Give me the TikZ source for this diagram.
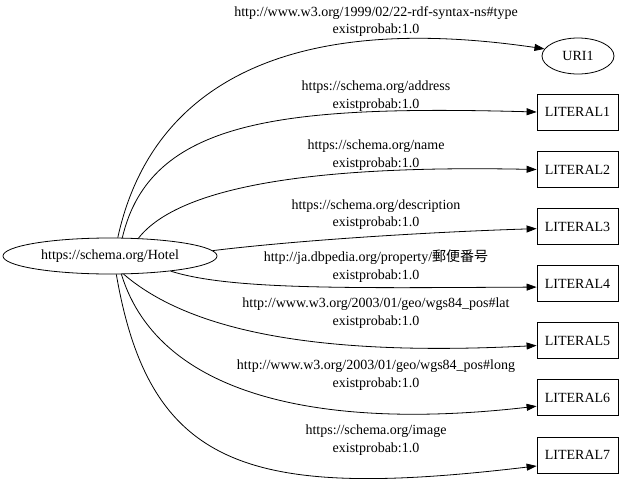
\documentclass[tikz,border=0pt]{standalone}
\usepackage{fontspec}
\setmainfont{Liberation Serif}
\newfontfamily\cjkfont{Noto Sans CJK JP}
\usetikzlibrary{shapes.geometric,arrows.meta}
\begin{document}
\begin{tikzpicture}[x=1pt,y=-1pt,
  font=\fontsize{14pt}{17.5pt}\selectfont, line width=0.8pt,
  ell/.style={draw, ellipse, inner sep=0pt, minimum height=36pt},
  lit/.style={draw, rectangle, minimum width=81pt, minimum height=36pt, inner sep=0pt},
  edgearrow/.style={-{Triangle[length=10pt,width=7pt]}},
  lbl/.style={align=center, inner sep=0pt}]
\useasboundingbox (0,0) rectangle (622,493);
% nodes
\node[ell, minimum width=214pt] (hotel) at (110,256) {https://schema.org/Hotel};
\node[ell, minimum width=72pt] (uri) at (578,56) {URI1};
\node[lit] (l1) at (577.5,112) {LITERAL1};
\node[lit] (l2) at (577.5,169.5) {LITERAL2};
\node[lit] (l3) at (577.5,226.5) {LITERAL3};
\node[lit] (l4) at (577.5,283.5) {LITERAL4};
\node[lit] (l5) at (577.5,340.5) {LITERAL5};
\node[lit] (l6) at (577.5,397.5) {LITERAL6};
\node[lit] (l7) at (577.5,455) {LITERAL7};
% labels
\node[lbl] (t0) at (376,21.5) {http://www.w3.org/1999/02/22-rdf-syntax-ns\#type\\existprobab:1.0};
\node[lbl] (t1) at (376,96) {https://schema.org/address\\existprobab:1.0};
\node[lbl] (t2) at (376,155) {https://schema.org/name\\existprobab:1.0};
\node[lbl] (t3) at (376,214.5) {https://schema.org/description\\existprobab:1.0};
\node[lbl] (t4) at (376,266) {http://ja.dbpedia.org/property/{\cjkfont 郵便番号}\\existprobab:1.0};
\node[lbl] (t5) at (376,313) {http://www.w3.org/2003/01/geo/wgs84\_pos\#lat\\existprobab:1.0};
\node[lbl] (t6) at (376,375) {http://www.w3.org/2003/01/geo/wgs84\_pos\#long\\existprobab:1.0};
\node[lbl] (t7) at (376,440) {https://schema.org/image\\existprobab:1.0};
% edges
\draw[edgearrow] (hotel.67) .. controls (150,90) and (280,10) .. (uri.168);
\draw[edgearrow] (hotel.56) .. controls (150,120) and (280,105) .. (l1.west);
\draw[edgearrow] (hotel.32) .. controls (180,185) and (320,165) .. (l2.west);
\draw[edgearrow] (hotel.3) .. controls (300,240) and (430,232) .. (l3.183);
\draw[edgearrow] (hotel.-14) .. controls (230,290) and (350,288) .. (l4.185);
\draw[edgearrow] (hotel.-53) .. controls (200,340) and (350,355) .. (l5.187);
\draw[edgearrow] (hotel.-58) .. controls (160,400) and (330,430) .. (l6.192);
\draw[edgearrow] (hotel.-71) .. controls (150,470) and (250,500) .. (l7.195);
\end{tikzpicture}
\end{document}
